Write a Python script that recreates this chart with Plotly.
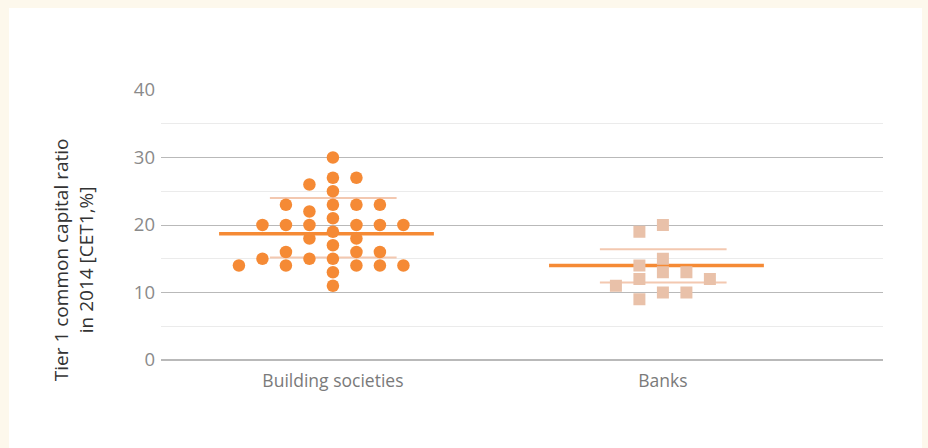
import plotly.graph_objects as go

categories = ["Building societies", "Banks"]

# Building societies: values and beeswarm column index
bs_values = [30, 27, 27, 26, 25, 23, 23, 23, 23, 22, 21,
             20, 20, 20, 20, 20, 20, 19, 18, 18, 17,
             16, 16, 16, 15, 15, 15, 14, 14, 14, 14, 14, 13, 11]
bs_cols = [0, 0, 1, -1, 0, -2, 0, 1, 2, -1, 0,
           -3, -2, -1, 1, 2, 3, 0, -1, 1, 0,
           -2, 1, 2, -3, -1, 0, -4, -2, 1, 2, 3, 0, 0]

bank_values = [20, 19, 15, 14, 13, 13, 12, 12, 11, 10, 10, 9]
bank_cols = [0, -1, 0, -1, 0, 1, -1, 2, -2, 0, 1, -1]

means = [18.7, 14.0]
upper = [24.0, 16.4]
lower = [15.2, 11.5]

y_ticks = [0, 10, 20, 30, 40]
y_title = "Tier 1 common capital ratio<br>in 2014 [CET1,%]"

ORANGE = "#f58a35"
PEACH = "#e9c1a9"
LIGHT_LINE = "#f3c8b0"
SP = 0.0712

fig = go.Figure()

# White panel behind
fig.add_shape(type="rect", xref="paper", yref="paper",
              x0=-0.2105, x1=1.054, y0=-0.33, y1=1.3037,
              fillcolor="white", line_width=0, layer="below")

# mean and band lines
for i in range(2):
    fig.add_trace(go.Scatter(x=[i - 0.345, i + 0.306], y=[means[i], means[i]],
                             mode="lines", line=dict(color=ORANGE, width=3.5),
                             hoverinfo="skip", showlegend=False))
    for v in (upper[i], lower[i]):
        fig.add_trace(go.Scatter(x=[i - 0.191, i + 0.193], y=[v, v],
                                 mode="lines", line=dict(color=LIGHT_LINE, width=2),
                                 hoverinfo="skip", showlegend=False))

fig.add_trace(go.Scatter(x=[0 + c * SP for c in bs_cols], y=bs_values,
                         mode="markers", name=categories[0],
                         marker=dict(symbol="circle", size=12.5, color=ORANGE),
                         showlegend=False))
fig.add_trace(go.Scatter(x=[1 + c * SP for c in bank_cols], y=bank_values,
                         mode="markers", name=categories[1],
                         marker=dict(symbol="square", size=12, color=PEACH),
                         showlegend=False))

fig.add_annotation(text=y_title, xref="paper", yref="paper",
                   x=-0.1218, y=0.37, xanchor="center", yanchor="middle",
                   textangle=-90, showarrow=False, align="center",
                   font=dict(size=19, color="#333333", family="Open Sans"))

fig.update_layout(
    width=928, height=448,
    margin=dict(l=161, r=45, t=90, b=88),
    paper_bgcolor="#fdf8ec",
    plot_bgcolor="rgba(0,0,0,0)",
    font=dict(family="Open Sans", color="#808080"),
    xaxis=dict(range=[-0.521, 1.667], tickvals=[0, 1], ticktext=categories,
               showgrid=False, zeroline=False, showline=False,
               tickfont=dict(size=17.5, color="#7a7a7a"), ticks="",
               ticklabelstandoff=8),
    yaxis=dict(range=[0, 40], tickvals=y_ticks, showgrid=True,
               gridcolor="#b9b9b9", gridwidth=1,
               zeroline=True, zerolinecolor="#b9b9b9", zerolinewidth=1.5,
               tickfont=dict(size=18.5, color="#8a8a8a"),
               ticks="", ticklabelstandoff=5,
               minor=dict(dtick=5, tick0=5, showgrid=True, gridcolor="#ebebeb", gridwidth=1)),
)

fig.write_html("out.html", config={"displayModeBar": False},
               post_script="document.body.style.margin='0';document.body.style.background='#fdf8ec';")
